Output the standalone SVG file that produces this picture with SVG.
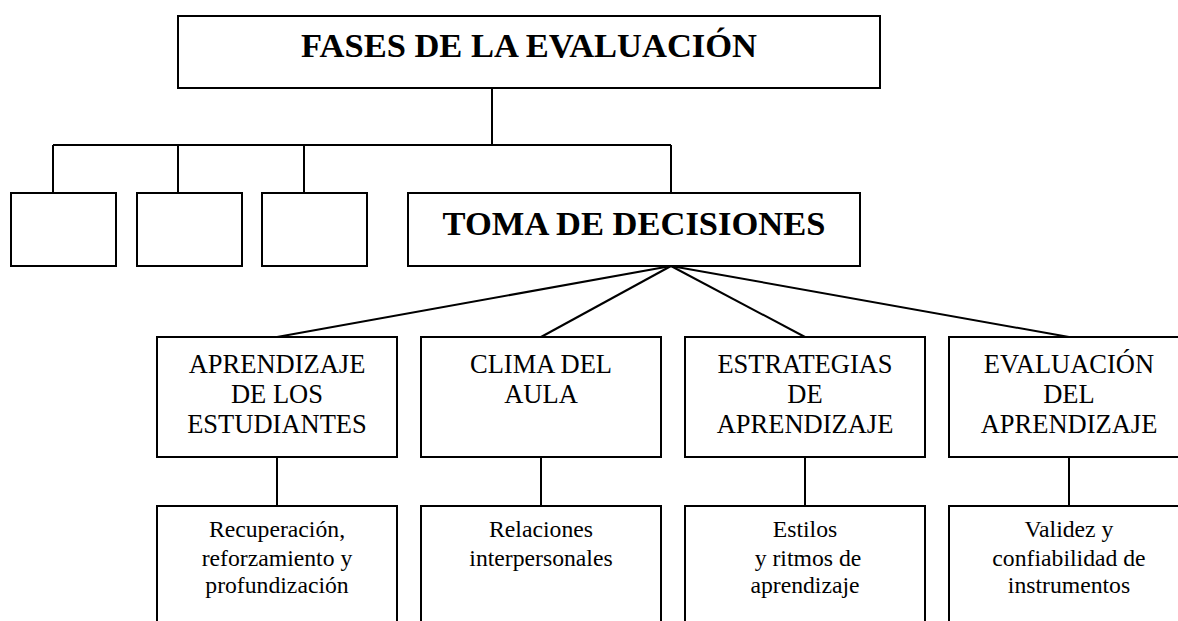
<svg xmlns="http://www.w3.org/2000/svg" width="1178" height="621" viewBox="0 0 1178 621">
<style>
rect{fill:#fff;stroke:#000;stroke-width:2}
line{stroke:#000;stroke-width:2}
text{font-family:"Liberation Serif","Times New Roman",serif;fill:#000;text-anchor:middle}
.h{font-size:34.5px;font-weight:bold}
.m{font-size:26.5px}
.s{font-size:23.7px}
</style>
<rect x="0" y="0" width="1178" height="621" style="stroke:none"/>
<g id="connectors">
<line x1="492" y1="88" x2="492" y2="145"/>
<line x1="53" y1="145" x2="671" y2="145"/>
<line x1="53" y1="145" x2="53" y2="193"/>
<line x1="178" y1="145" x2="178" y2="193"/>
<line x1="304" y1="145" x2="304" y2="193"/>
<line x1="671" y1="145" x2="671" y2="193"/>
<line x1="671" y1="266" x2="277" y2="337"/>
<line x1="671" y1="266" x2="541" y2="337"/>
<line x1="671" y1="266" x2="805" y2="337"/>
<line x1="671" y1="266" x2="1069" y2="337"/>
<line x1="277" y1="457" x2="277" y2="506"/>
<line x1="541" y1="457" x2="541" y2="506"/>
<line x1="805" y1="457" x2="805" y2="506"/>
<line x1="1069" y1="457" x2="1069" y2="506"/>
</g>
<g id="fases"><rect x="178" y="16" width="702" height="72"/><text class="h" x="529" y="57">FASES DE LA EVALUACIÓN</text></g>
<g id="empty1"><rect x="11" y="193" width="105" height="73"/></g>
<g id="empty2"><rect x="137" y="193" width="105" height="73"/></g>
<g id="empty3"><rect x="262" y="193" width="105" height="73"/></g>
<g id="toma"><rect x="408" y="193" width="452" height="73"/><text class="h" x="634" y="235">TOMA DE DECISIONES</text></g>
<g id="aprendizaje"><rect x="157" y="337" width="240" height="120"/><text class="m" x="277"><tspan x="277" y="373">APRENDIZAJE</tspan><tspan x="277" y="403">DE LOS</tspan><tspan x="277" y="433">ESTUDIANTES</tspan></text></g>
<g id="clima"><rect x="421" y="337" width="240" height="120"/><text class="m" x="541"><tspan x="541" y="373">CLIMA DEL</tspan><tspan x="541" y="403">AULA</tspan></text></g>
<g id="estrategias"><rect x="685" y="337" width="240" height="120"/><text class="m" x="805"><tspan x="805" y="373">ESTRATEGIAS</tspan><tspan x="805" y="403">DE</tspan><tspan x="805" y="433">APRENDIZAJE</tspan></text></g>
<g id="evaluacion"><rect x="949" y="337" width="240" height="120"/><text class="m" x="1069"><tspan x="1069" y="373">EVALUACIÓN</tspan><tspan x="1069" y="403">DEL</tspan><tspan x="1069" y="433">APRENDIZAJE</tspan></text></g>
<g id="recuperacion"><rect x="157" y="506" width="240" height="130"/><text class="s" x="277"><tspan x="277" y="537">Recuperación,</tspan><tspan x="277" y="565.5">reforzamiento y</tspan><tspan x="277" y="593">profundización</tspan></text></g>
<g id="relaciones"><rect x="421" y="506" width="240" height="130"/><text class="s" x="541"><tspan x="541" y="537">Relaciones</tspan><tspan x="541" y="565.5">interpersonales</tspan></text></g>
<g id="estilos"><rect x="685" y="506" width="240" height="130"/><text class="s" x="805"><tspan x="805" y="537">Estilos</tspan><tspan x="808" y="565.5">y ritmos de</tspan><tspan x="805" y="593">aprendizaje</tspan></text></g>
<g id="validez"><rect x="949" y="506" width="240" height="130"/><text class="s" x="1069"><tspan x="1069" y="537">Validez y</tspan><tspan x="1069" y="565.5">confiabilidad de</tspan><tspan x="1069" y="593">instrumentos</tspan></text></g>
</svg>
